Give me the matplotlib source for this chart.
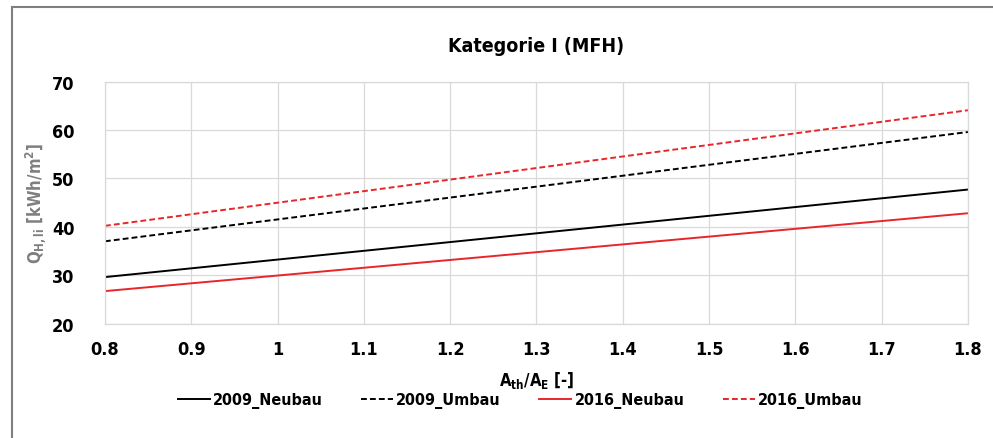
import matplotlib
matplotlib.use('Agg')
import matplotlib.pyplot as plt
from matplotlib.patches import Rectangle

plt.rcParams['font.family'] = ['DejaVu Sans']
plt.rcParams['font.stretch'] = 'condensed'
plt.rcParams['font.weight'] = 'bold'
plt.rcParams['mathtext.default'] = 'regular'

# Werte
x = [0.8, 1.8]
neubau_2009 = [29.6, 47.7]
umbau_2009 = [37.0, 59.6]
neubau_2016 = [26.7, 42.8]
umbau_2016 = [40.2, 64.1]
xticks = [0.8, 0.9, 1.0, 1.1, 1.2, 1.3, 1.4, 1.5, 1.6, 1.7, 1.8]
xticklabels = ['0.8', '0.9', '1', '1.1', '1.2', '1.3', '1.4', '1.5', '1.6', '1.7', '1.8']
yticks = [20, 30, 40, 50, 60, 70]

fig = plt.figure(figsize=(9.93, 4.39), dpi=100)
ax = fig.add_axes([0.1057, 0.2608, 0.8691, 0.5508])

# Rahmen um die Grafik (rechts und unten abgeschnitten)
fig.patches.append(Rectangle((12 / 993, -1), 2, 2 - 8 / 439, transform=fig.transFigure,
                             fill=False, edgecolor='#7f7f7f', linewidth=1.5))

red = '#e8262a'
ax.plot(x, neubau_2009, color='black', lw=1.4, label='2009_Neubau')
ax.plot(x, umbau_2009, color='black', lw=1.4, ls=(0, (3, 1.6)), label='2009_Umbau')
ax.plot(x, neubau_2016, color=red, lw=1.4, label='2016_Neubau')
ax.plot(x, umbau_2016, color=red, lw=1.4, ls=(0, (3, 1.6)), label='2016_Umbau')

ax.set_xlim(0.8, 1.8)
ax.set_ylim(20, 70)
ax.set_xticks(xticks)
ax.set_xticklabels(xticklabels)
ax.set_yticks(yticks)
ax.grid(True, color='#d9d9d9', lw=0.9)
ax.set_axisbelow(True)
for s in ax.spines.values():
    s.set_color('#d9d9d9')
    s.set_linewidth(0.9)
ax.tick_params(length=0, labelsize=13, pad=12)
ax.tick_params(axis='y', pad=22)

ax.set_title('Kategorie I (MFH)', fontsize=14, fontweight='bold', pad=22)
ax.set_xlabel('$A_{th}/A_E$ [-]', fontsize=12, fontweight='bold', labelpad=8)
ax.set_ylabel('$Q_{H,li}$ [kWh/m$^2$]', fontsize=12, fontweight='bold', color='#7f7f7f', labelpad=3)

ax.legend(loc='upper center', bbox_to_anchor=(0.481, -0.225), ncol=4, frameon=False,
          fontsize=11.5, handlelength=2.0, handletextpad=0.2, columnspacing=2.4)

fig.savefig('out.png', dpi=100)
